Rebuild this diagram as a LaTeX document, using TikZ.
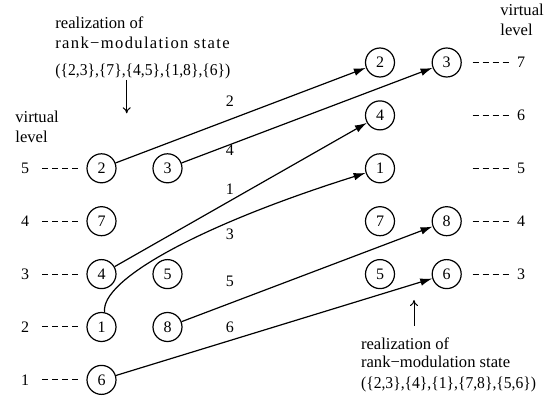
\documentclass[tikz,border=0pt]{standalone}
\usepackage{fontspec}
\setmainfont{Liberation Serif}
\newfontfamily\tightSerif[FakeStretch=0.94]{Liberation Serif}
\newfontfamily\wideSerif[LetterSpace=8]{Liberation Serif}
\usetikzlibrary{arrows.meta}
\tikzset{
  symbolNode/.style={draw, circle, minimum size=14.5pt, inner sep=0pt, line width=0.6pt, font=\fontsize{8}{9.6}\selectfont},
  levelText/.style={font=\fontsize{8}{9.6}\selectfont},
  levelDash/.style={dash pattern=on 3pt off 2pt, line width=0.5pt},
  moveArrow/.style={line width=0.6pt, -{Latex[length=6pt,width=3.8pt]}},
  moveLabel/.style={font=\fontsize{8}{9.6}\selectfont},
  noteArrow/.style={line width=0.5pt, -{To[length=3pt,width=4pt]}},
  noteText/.style={anchor=west, inner sep=0pt, font=\fontsize{8.3}{10}\selectfont}
}

\begin{document}
\begin{tikzpicture}[x=0.5pt,y=0.5pt]
  \useasboundingbox (0,0) rectangle (553,408);
  \def\ax{101.5}
  \def\bx{167.5}
  \def\cx{380}
  \def\dx{446.7}

  \foreach \k/\y in {1/28.1,2/81,3/133.9,4/186.8,5/239.7} {
    \node[levelText] (ll\k) at (25,\y) {\k};
    \draw[levelDash] (ll\k) ++(17,0) -- ++(37,0);
  }
  \foreach \k/\y in {3/133.9,4/186.8,5/239.7,6/292.6,7/345.5} {
    \node[levelText] (rl\k) at (521,\y) {\k};
    \draw[levelDash] (rl\k) ++(-48.5,0) -- ++(37,0);
  }

  \node[symbolNode] (a2) at (\ax,239.7) {2};
  \node[symbolNode] (a3) at (\bx,239.7) {3};
  \node[symbolNode] (a7) at (\ax,186.8) {7};
  \node[symbolNode] (a4) at (\ax,133.9) {4};
  \node[symbolNode] (a5) at (\bx,133.9) {5};
  \node[symbolNode] (a1) at (\ax,81) {1};
  \node[symbolNode] (a8) at (\bx,81) {8};
  \node[symbolNode] (a6) at (\ax,28.1) {6};

  \node[symbolNode] (b2) at (\cx,345.5) {2};
  \node[symbolNode] (b3) at (\dx,345.5) {3};
  \node[symbolNode] (b4) at (\cx,292.6) {4};
  \node[symbolNode] (b1) at (\cx,239.7) {1};
  \node[symbolNode] (b7) at (\cx,186.8) {7};
  \node[symbolNode] (b8) at (\dx,186.8) {8};
  \node[symbolNode] (b5) at (\cx,133.9) {5};
  \node[symbolNode] (b6) at (\dx,133.9) {6};

  \draw[moveArrow] (a2) -- (b2);
  \draw[moveArrow] (a3) -- (b3);
  \draw[moveArrow] (a4) -- (b4);
  \draw[moveArrow] (a1.78) .. controls (100,128) and (200,183) .. (b1.198);
  \draw[moveArrow] (a8) -- (b8);
  \draw[moveArrow] (a6) -- (b6);

  \node[moveLabel] (mv2) at (230,306.3) {2};
  \node[moveLabel] (mv4) at (230,258) {4};
  \node[moveLabel] (mv1) at (230,219) {1};
  \node[moveLabel] (mv3) at (230,174) {3};
  \node[moveLabel] (mv5) at (230,126.3) {5};
  \node[moveLabel] (mv6) at (230,80.7) {6};

  \node[noteText] (lvl1) at (15,291.3) {virtual};
  \node[noteText] (lvl2) at (15,271.3) {level};
  \node[noteText] (rvl1) at (500,398) {virtual};
  \node[noteText] (rvl2) at (500,378) {level};

  \node[noteText] (topLine1) at (55,385) {realization of};
  \node[noteText, font=\fontsize{8.3}{10}\wideSerif] (topLine2) at (55,365) {rank−modulation state};
  \node[noteText, font=\fontsize{8.3}{10}\tightSerif] (topSet) at (55,336.3) {(\{2,3\},\{7\},\{4,5\},\{1,8\},\{6\})};
  \coordinate (topTail) at (126.7,328);
  \coordinate (topTip) at (126.7,294.7);
  \draw[noteArrow] (topTail) -- (topTip);

  \node[noteText] (botLine1) at (360.7,64.7) {realization of};
  \node[noteText] (botLine2) at (360.7,46.3) {rank−modulation state};
  \node[noteText, font=\fontsize{8.3}{10}\tightSerif] (botSet) at (360.7,23) {(\{2,3\},\{4\},\{1\},\{7,8\},\{5,6\})};
  \coordinate (botTail) at (414,82);
  \coordinate (botTip) at (414,108);
  \draw[noteArrow] (botTail) -- (botTip);
\end{tikzpicture}
\end{document}
